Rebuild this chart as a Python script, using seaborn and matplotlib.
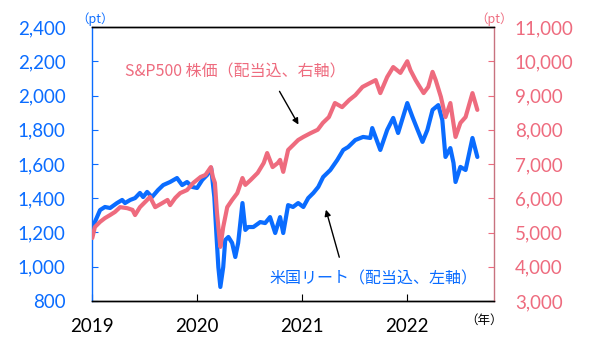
import matplotlib
matplotlib.use("Agg")
import matplotlib.pyplot as plt
import seaborn as sns
import pandas as pd

# ---- data ----
reit_dates = ["2019-01-02","2019-01-11","2019-01-29","2019-02-15","2019-03-05","2019-03-29","2019-04-16",
              "2019-04-26","2019-05-14","2019-05-31","2019-06-17","2019-06-28","2019-07-12","2019-07-29",
              "2019-08-19","2019-09-06","2019-09-30","2019-10-24","2019-11-11","2019-11-28","2019-12-16",
              "2020-01-02","2020-01-20","2020-02-06","2020-02-20","2020-03-02","2020-03-09","2020-03-16",
              "2020-03-23","2020-04-02","2020-04-09","2020-04-20","2020-05-03","2020-05-14","2020-05-24",
              "2020-06-08","2020-06-18","2020-06-28","2020-07-16","2020-08-09","2020-08-26","2020-09-12",
              "2020-09-30","2020-10-17","2020-10-28","2020-11-14","2020-12-01","2020-12-19","2021-01-06",
              "2021-01-23","2021-02-10","2021-02-27","2021-03-16","2021-04-10","2021-05-04","2021-05-25",
              "2021-06-11","2021-07-06","2021-08-02","2021-08-27","2021-09-03","2021-10-01","2021-10-25",
              "2021-11-15","2021-12-02","2022-01-03","2022-01-21","2022-02-08","2022-02-25","2022-03-14",
              "2022-04-01","2022-04-21","2022-05-05","2022-05-16","2022-06-02","2022-06-13","2022-06-20",
              "2022-07-07","2022-07-25","2022-08-18","2022-09-04"]
reit_values = [1185,1261,1331,1349,1343,1372,1390,
               1372,1390,1401,1431,1407,1437,1407,
               1448,1477,1495,1518,1477,1495,1466,
               1460,1507,1536,1577,1407,1197,998,
               882,998,1156,1174,1139,1057,1139,
               1372,1215,1232,1232,1261,1255,1290,
               1197,1290,1197,1360,1349,1372,1349,
               1401,1431,1466,1524,1565,1623,1682,
               1699,1740,1758,1752,1810,1682,1799,
               1869,1781,1956,1875,1799,1729,1799,
               1916,1944,1857,1641,1693,1606,1495,
               1583,1565,1752,1641]

spx_dates = ["2019-01-02","2019-01-11","2019-01-29","2019-02-15","2019-03-05","2019-03-22","2019-04-09",
             "2019-05-04","2019-05-22","2019-05-31","2019-06-17","2019-07-12","2019-07-22","2019-08-09",
             "2019-09-03","2019-09-21","2019-09-30","2019-10-18","2019-11-04","2019-11-28","2019-12-20",
             "2020-01-14","2020-01-31","2020-02-19","2020-02-26","2020-03-04","2020-03-11","2020-03-18",
             "2020-03-23","2020-04-02","2020-04-16","2020-05-03","2020-05-21","2020-06-08","2020-06-18",
             "2020-07-06","2020-07-31","2020-08-21","2020-09-02","2020-09-21","2020-10-09","2020-10-17",
             "2020-10-28","2020-11-14","2020-12-01","2020-12-19","2021-01-06","2021-01-31","2021-02-25",
             "2021-03-15","2021-04-05","2021-04-26","2021-05-21","2021-06-15","2021-07-06","2021-07-31",
             "2021-08-25","2021-09-15","2021-10-01","2021-10-25","2021-11-15","2021-12-10","2022-01-03",
             "2022-01-14","2022-02-01","2022-02-11","2022-03-01","2022-03-17","2022-04-01","2022-04-12",
             "2022-04-30","2022-05-16","2022-06-02","2022-06-20","2022-07-07","2022-07-25","2022-08-18",
             "2022-09-04"]
spx_values = [4840,5160,5310,5420,5510,5600,5740,
              5710,5660,5510,5740,5950,6040,5740,
              5860,5950,5800,6010,6150,6240,6450,
              6620,6680,6910,6620,6450,5600,4990,
              4580,5160,5740,5950,6150,6590,6390,
              6530,6740,7030,7320,6910,7030,7120,
              6770,7410,7550,7700,7790,7900,8000,
              8200,8370,8780,8660,8870,9010,9250,
              9360,9450,9070,9540,9830,9660,10000,
              9740,9450,9310,9070,9250,9690,9450,
              8960,8370,8780,7790,8200,8370,9070,
              8580]

year_ticks = ["2019-01-01","2020-01-01","2021-01-01","2022-01-01"]
year_labels = ["2019","2020","2021","2022"]
left_ticks = [800,1000,1200,1400,1600,1800,2000,2200,2400]
right_ticks = [3000,4000,5000,6000,7000,8000,9000,10000,11000]

reit = pd.DataFrame({"date": pd.to_datetime(reit_dates), "value": reit_values})
spx = pd.DataFrame({"date": pd.to_datetime(spx_dates), "value": spx_values})

BLUE = "#0A6CFF"
PINK = "#EE6B7E"
SPINE_PINK = "#C8727F"
TICK_FONT = "Lato"
JP = ["Noto Sans CJK JP", "DejaVu Sans"]

sns.set_style("white")
plt.rcParams["font.family"] = JP

fig = plt.figure(figsize=(5.92, 3.38), dpi=100)
ax = fig.add_axes([92/592, 37/338, 402/592, 274/338])
ax2 = ax.twinx()

sns.lineplot(data=reit, x="date", y="value", ax=ax, color=BLUE, linewidth=3.0)
sns.lineplot(data=spx, x="date", y="value", ax=ax2, color=PINK, linewidth=3.0)

ax.set_xlim(pd.Timestamp("2019-01-01"), pd.Timestamp("2022-11-01"))
ax.set_ylim(800, 2400)
ax2.set_ylim(3000, 11000)

ax.set_xticks(pd.to_datetime(year_ticks))
ax.set_xticklabels(year_labels, fontfamily=TICK_FONT, fontsize=13.5, color="black")
ax.set_yticks(left_ticks)
ax.set_yticklabels([f"{v:,}" for v in left_ticks], fontfamily=TICK_FONT, fontsize=13.5, color=BLUE)
ax2.set_yticks(right_ticks)
ax2.set_yticklabels([f"{v:,}" for v in right_ticks], fontfamily=TICK_FONT, fontsize=13.5, color=PINK)

ax.set_xlabel("")
ax.set_ylabel("")
ax2.set_xlabel("")
ax2.set_ylabel("")

ax.tick_params(axis="x", direction="in", length=5, width=0.8, color="black", pad=12, bottom=True, top=False)
ax.tick_params(axis="y", direction="in", length=4, width=0.8, color=BLUE, pad=19, left=True, right=False)
ax2.tick_params(axis="y", direction="in", length=4, width=0.8, color=PINK, pad=15, left=False, right=True)

for a in (ax, ax2):
    a.spines["top"].set_color("black")
    a.spines["bottom"].set_color("black")
    a.spines["left"].set_color(BLUE)
    a.spines["right"].set_color(SPINE_PINK)
    for s in a.spines.values():
        s.set_linewidth(1.0)
ax2.spines["left"].set_visible(False)
ax.spines["right"].set_visible(False)

# unit labels
ax.text(0.0075, 1.03, "（pt）", transform=ax.transAxes, ha="center", va="center",
        fontsize=9, color=BLUE)
ax.text(1.0, 1.03, "（pt）", transform=ax.transAxes, ha="center", va="center",
        fontsize=9, color=PINK)
ax.text(0.975, -0.069, "（年）", transform=ax.transAxes, ha="center", va="center",
        fontsize=9, color="black")

# annotations
ax.text(0.356, 0.836, "S&P500 株価（配当込、右軸）", transform=ax.transAxes,
        ha="center", va="center", fontsize=11.5, color=PINK)
ax.annotate("", xy=(0.517, 0.635), xytext=(0.463, 0.774), xycoords="axes fraction",
            textcoords="axes fraction",
            arrowprops=dict(arrowstyle="-|>", color="black", lw=1.0, mutation_scale=9))
ax.text(0.701, 0.080, "米国リート（配当込、左軸）", transform=ax.transAxes,
        ha="center", va="center", fontsize=11.5, color=BLUE)
ax.annotate("", xy=(0.580, 0.343), xytext=(0.617, 0.150), xycoords="axes fraction",
            textcoords="axes fraction",
            arrowprops=dict(arrowstyle="-|>", color="black", lw=1.0, mutation_scale=9))

fig.savefig("out.png", dpi=100)
